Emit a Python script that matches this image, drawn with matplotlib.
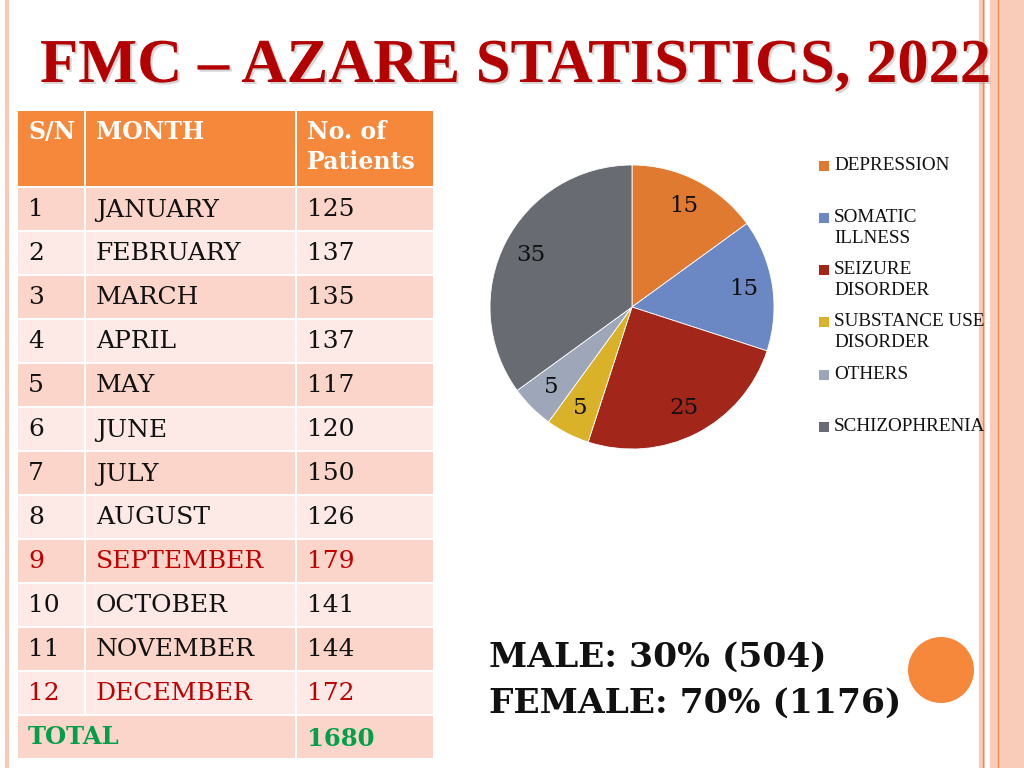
import matplotlib.pyplot as plt
import matplotlib.patheffects as pe
from matplotlib.patches import Rectangle, Circle

# table data
sn = ['1', '2', '3', '4', '5', '6', '7', '8', '9', '10', '11', '12']
months = ['JANUARY', 'FEBRUARY', 'MARCH', 'APRIL', 'MAY', 'JUNE', 'JULY',
          'AUGUST', 'SEPTEMBER', 'OCTOBER', 'NOVEMBER', 'DECEMBER']
patients = [125, 137, 135, 137, 117, 120, 150, 126, 179, 141, 144, 172]
total_patients = 1680  # as printed on the slide
highlight = ['SEPTEMBER', 'DECEMBER']

# pie data
diagnoses = ['DEPRESSION', 'SOMATIC\nILLNESS', 'SEIZURE\nDISORDER',
             'SUBSTANCE USE\nDISORDER', 'OTHERS', 'SCHIZOPHRENIA']
shares = [15, 15, 25, 5, 5, 35]
pie_colors = ['#E07A30', '#6B88C4', '#A3261A', '#D9B22A', '#9EA6BA', '#686B72']

male = (30, 504)
female = (70, 1176)

ORANGE = '#F6883C'
ROW_DARK = '#FBD5CA'
ROW_LIGHT = '#FDE9E6'
RED = '#C00000'
GREEN = '#00A04A'

fig = plt.figure(figsize=(10.24, 7.68), dpi=100)
bg = fig.add_axes([0, 0, 1, 1])
bg.set_xlim(0, 1024)
bg.set_ylim(768, 0)
bg.axis('off')

# slide borders
bg.add_patch(Rectangle((5, 0), 4, 768, color='#F9C8B6', lw=0))
bg.add_patch(Rectangle((979, 0), 6, 768, color='#F9CBB9', lw=0))
bg.add_patch(Rectangle((990, 0), 34, 768, color='#F9CBB9', lw=0))
bg.plot([983, 983], [0, 768], color='#F08A50', lw=1)
bg.plot([998, 998], [0, 768], color='#F08A50', lw=1)

# title
bg.text(516, 67, 'FMC – AZARE STATISTICS, 2022', ha='center', va='center',
        family='Liberation Serif', weight='bold', fontsize=45, color='#B30000',
        path_effects=[pe.withSimplePatchShadow(offset=(1.5, -1.5), shadow_rgbFace='#999999', alpha=0.4)])

# table
col_x = [18, 86, 297, 435]
head_top, head_bot = 111, 186
row_h = 44
gap = 2

for c in range(3):
    bg.add_patch(Rectangle((col_x[c], head_top), col_x[c + 1] - col_x[c] - gap,
                           head_bot - head_top, color=ORANGE, lw=0))
hk = dict(family='DejaVu Serif', weight='bold', fontsize=17, color='white', va='top')
bg.text(28, 120, 'S/N', **hk)
bg.text(96, 120, 'MONTH', **hk)
bg.text(307, 120, 'No. of\nPatients', linespacing=1.3, **hk)

for i, (s, m, p) in enumerate(zip(sn, months, patients)):
    top = head_bot + gap + i * row_h
    fc = ROW_DARK if i % 2 == 0 else ROW_LIGHT
    for c in range(3):
        bg.add_patch(Rectangle((col_x[c], top), col_x[c + 1] - col_x[c] - gap,
                               row_h - gap, color=fc, lw=0))
    tc = RED if m in highlight else '#111111'
    yc = top + (row_h - gap) / 2 + 1
    tk = dict(family='DejaVu Serif', fontsize=18, color=tc, va='center')
    bg.text(28, yc, s, **tk)
    bg.text(96, yc, m, **tk)
    bg.text(307, yc, str(p), **tk)

top = head_bot + gap + len(sn) * row_h
bg.add_patch(Rectangle((col_x[0], top), col_x[2] - col_x[0] - gap, row_h - 2, color=ROW_DARK, lw=0))
bg.add_patch(Rectangle((col_x[2], top), col_x[3] - col_x[2] - gap, row_h - 2, color=ROW_DARK, lw=0))
tk = dict(family='DejaVu Serif', weight='bold', fontsize=17.5, color=GREEN, va='center')
bg.text(28, top + 21, 'TOTAL', **tk)
bg.text(307, top + 23, str(total_patients), **tk)

# pie
pax = fig.add_axes([490 / 1024, 1 - 449 / 768, 284 / 1024, 284 / 768])
pax.pie(shares, colors=pie_colors, startangle=90, counterclock=False,
        labels=[str(v) for v in shares], labeldistance=0.8,
        wedgeprops=dict(edgecolor='white', linewidth=0.6),
        textprops=dict(family='DejaVu Serif', fontsize=16.5, color='#111111',
                       ha='center', va='center'))
pax.set_xlim(-1, 1)
pax.set_ylim(-1, 1)

# legend
leg_y = [166, 218, 270, 322, 375, 427]
for name, col, y in zip(diagnoses, pie_colors, leg_y):
    bg.add_patch(Rectangle((819, y - 5), 10, 10, color=col, lw=0))
    bg.text(834, y - 9, name, family='Liberation Serif', fontsize=13.8,
            color='#111111', va='top', linespacing=1.3)

# gender split
gk = dict(family='DejaVu Serif', weight='bold', fontsize=24.8, color='#111111', va='center')
bg.text(489, 657, f'MALE: {male[0]}% ({male[1]})', **gk)
bg.text(489, 703, f'FEMALE: {female[0]}% ({female[1]})', **gk)

bg.add_patch(Circle((941, 670), 33, color=ORANGE, lw=0))

fig.savefig('out.png', dpi=100)
